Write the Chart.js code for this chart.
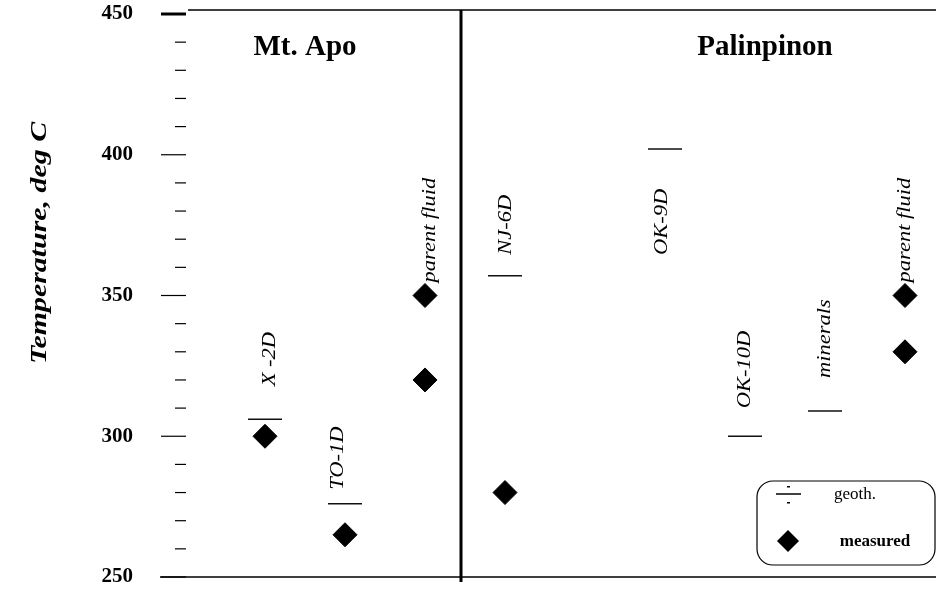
<!DOCTYPE html>
<html lang="en">
<head>
  <meta charset="UTF-8">
  <title>Temperature - Mt. Apo / Palinpinon</title>
  <script src="https://cdn.jsdelivr.net/npm/chart.js@4.4.0/dist/chart.umd.min.js"></script>
  <style>
    body { margin: 0; background: #fff; }
    #wrap { width: 937px; height: 590px; }
  </style>
</head>
<body>
  <div id="wrap"><canvas id="chart" width="937" height="590"></canvas></div>
  <script>
    // wells / samples along the x axis (blank slot keeps the spacing)
    const categories = ['X -2D', 'TO-1D', 'parent fluid', 'NJ-6D', '', 'OK-9D', 'OK-10D', 'minerals', 'parent fluid'];
    const fields = ['Mt. Apo', 'Palinpinon'];
    // temperatures, deg C
    const geoth = [306, 276, null, 357, null, 402, 300, 309, null];
    const measured = [300, 265, 350, 280, null, null, null, null, 350];
    const measuredLow = [null, null, 320, null, null, null, null, null, 330];
    const yTicks = [250, 300, 350, 400, 450];

    const SERIF = '"Liberation Serif", "DejaVu Serif", serif';

    function points(arr) {
      const out = [];
      arr.forEach((v, i) => { if (v !== null) out.push({ x: i + 1, y: v }); });
      return out;
    }

    const decor = {
      id: 'decor',
      afterDraw(chart, args, opts) {
        const ctx = chart.ctx;
        const xs = chart.scales.x, ys = chart.scales.y;
        const area = chart.chartArea;
        ctx.save();
        ctx.strokeStyle = '#000';
        ctx.fillStyle = '#000';

        // frame lines
        ctx.lineWidth = 1.5;
        ctx.beginPath();
        ctx.moveTo(area.left, area.top - 4); ctx.lineTo(area.right, area.top - 4);
        ctx.moveTo(area.left - 28, area.bottom); ctx.lineTo(area.right, area.bottom);
        ctx.stroke();

        // divider between the two fields
        const dx = xs.getPixelForValue(opts.divider);
        ctx.lineWidth = 3;
        ctx.beginPath();
        ctx.moveTo(dx, area.top - 4); ctx.lineTo(dx, area.bottom + 5);
        ctx.stroke();

        // y tick marks, major every 50 and minor every 10
        for (let v = ys.min; v <= ys.max; v += 10) {
          const y = ys.getPixelForValue(v);
          const major = yTicks.includes(v);
          ctx.lineWidth = v === ys.max ? 3 : 1.2;
          ctx.beginPath();
          if (major) { ctx.moveTo(area.left - 27, y); ctx.lineTo(area.left - 2, y); }
          else { ctx.moveTo(area.left - 13, y); ctx.lineTo(area.left - 2, y); }
          ctx.stroke();
        }

        // field titles
        ctx.font = 'bold 29px ' + SERIF;
        ctx.textAlign = 'center';
        ctx.textBaseline = 'middle';
        fields.forEach((f, i) => {
          ctx.fillText(f, xs.getPixelForValue(opts.titleAt[i]), area.top + 34);
        });

        // rotated sample labels
        ctx.font = 'italic 18px ' + SERIF;
        ctx.textAlign = 'left';
        ctx.textBaseline = 'middle';
        categories.forEach((c, i) => {
          if (!c) return;
          const ref = geoth[i] !== null ? geoth[i] : measured[i];
          const [ox, oy] = opts.labelShift[i];
          const x = xs.getPixelForValue(i + 1) + ox;
          const y = ys.getPixelForValue(ref) + oy;
          ctx.save();
          ctx.translate(x, y);
          ctx.rotate(-Math.PI / 2);
          ctx.scale(1.25, 1);
          ctx.fillText(c, 0, 0);
          ctx.restore();
        });

        // y axis title
        ctx.save();
        ctx.translate(40, 243);
        ctx.rotate(-Math.PI / 2);
        ctx.scale(1.3, 1);
        ctx.font = 'bold italic 23px ' + SERIF;
        ctx.textAlign = 'center';
        ctx.fillText('Temperature, deg C', 0, 0);
        ctx.restore();

        // legend box
        const lg = opts.legend;
        ctx.lineWidth = 1.2;
        ctx.beginPath();
        ctx.roundRect(lg.x, lg.y, lg.w, lg.h, 16);
        ctx.stroke();
        const ds = chart.data.datasets;
        // geoth symbol
        ctx.lineWidth = 1.5;
        ctx.beginPath();
        ctx.moveTo(lg.x + 19, lg.y + 13); ctx.lineTo(lg.x + 44, lg.y + 13);
        ctx.stroke();
        ctx.fillRect(lg.x + 30, lg.y + 5, 3, 1.5);
        ctx.fillRect(lg.x + 30, lg.y + 21, 3, 1.5);
        // measured symbol
        const cy = lg.y + 60, cx = lg.x + 31;
        ctx.beginPath();
        ctx.moveTo(cx, cy - 11); ctx.lineTo(cx + 11, cy); ctx.lineTo(cx, cy + 11); ctx.lineTo(cx - 11, cy);
        ctx.closePath();
        ctx.fill();
        ctx.textAlign = 'center';
        ctx.font = '17px ' + SERIF;
        ctx.fillText(ds[0].label, lg.x + 98, lg.y + 14);
        ctx.font = 'bold 17px ' + SERIF;
        ctx.fillText(ds[1].label, lg.x + 118, lg.y + 61);
        ctx.restore();
      }
    };

    const ctx = document.getElementById('chart').getContext('2d');
    new Chart(ctx, {
      type: 'scatter',
      data: {
        datasets: [{
          label: 'geoth.',
          data: points(geoth),
          pointStyle: 'line',
          pointRadius: 17,
          pointHoverRadius: 17,
          borderColor: '#111',
          borderWidth: 1.5
        }, {
          label: 'measured',
          data: points(measured).concat(points(measuredLow)),
          pointStyle: 'rectRot',
          pointRadius: 12,
          pointHoverRadius: 12,
          backgroundColor: '#000',
          borderColor: '#000',
          borderWidth: 1
        }]
      },
      options: {
        responsive: false,
        animation: false,
        layout: { autoPadding: false, padding: { top: 14, right: 1, bottom: 13, left: 0 } },
        plugins: {
          legend: { display: false },
          tooltip: { enabled: false },
          decor: {
            divider: 3.45,
            titleAt: [1.5, 7.25],
            labelShift: [[5, -33], [-7, -14], [5, -13], [1, -21], [0, 0], [-3, 106], [0, -28], [0, -33], [0, -13]],
            legend: { x: 757, y: 481, w: 178, h: 84 }
          }
        },
        scales: {
          x: {
            type: 'linear',
            min: 0.0375,
            max: 9.3875,
            display: false
          },
          y: {
            min: 250,
            max: 450,
            afterFit: (s) => { s.width = 188; s.paddingTop = 0; s.paddingBottom = 0; },
            grid: { display: false },
            border: { display: false },
            ticks: {
              stepSize: 10,
              autoSkip: false,
              padding: 47,
              color: '#000',
              font: { family: SERIF, size: 21, weight: 'bold' },
              callback: (v) => (yTicks.includes(v) ? v : '')
            }
          }
        }
      },
      plugins: [decor]
    });
  </script>
</body>
</html>
